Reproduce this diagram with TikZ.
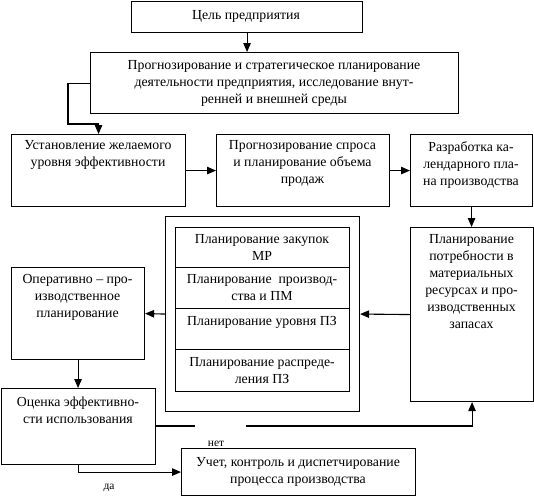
\documentclass[tikz,border=0pt]{standalone}
\usepackage{fontspec}
\setmainfont{Liberation Serif}
\usetikzlibrary{arrows.meta}
\tikzset{
  box/.style={draw, line width=1.1pt, rectangle, inner sep=0pt, anchor=north west},
  txt/.style={align=center, inner sep=0pt, font=\fontsize{13.8}{17}\selectfont},
  lbl/.style={inner sep=0pt, font=\fontsize{11.5}{13}\selectfont},
  arr/.style={line width=1.1pt, -{Triangle[length=9pt,width=7.5pt]}},
  ln/.style={line width=1.1pt}
}
\begin{document}
\begin{tikzpicture}[x=1pt,y=-1pt]
\useasboundingbox (0,0) rectangle (534,496);
% boxes
\node[box, minimum width=231pt, minimum height=31pt] (b1) at (131,0.5) {};
\node[box, minimum width=368pt, minimum height=61pt] (b2) at (90,52) {};
\node[box, minimum width=174pt, minimum height=72pt] (b3) at (11,134) {};
\node[box, minimum width=173pt, minimum height=72pt] (b4) at (216,134) {};
\node[box, minimum width=122pt, minimum height=72pt] (b5) at (410,134) {};
\node[box, minimum width=194pt, minimum height=195pt] (outer) at (165,216) {};
\node[box, minimum width=174pt, minimum height=40pt] (r1) at (175,227) {};
\node[box, minimum width=174pt, minimum height=41pt] (r2) at (175,267) {};
\node[box, minimum width=174pt, minimum height=41pt] (r3) at (175,308) {};
\node[box, minimum width=174pt, minimum height=42pt] (r4) at (175,349) {};
\node[box, minimum width=123pt, minimum height=174pt] (b6) at (410,227) {};
\node[box, minimum width=133pt, minimum height=92pt] (b7) at (11,267) {};
\node[box, minimum width=154pt, minimum height=76pt] (b8) at (1,388) {};
\node[box, minimum width=234pt, minimum height=47pt] (b9) at (181,448) {};
% texts
\node[txt] (t1) at (246,16) {Цель предприятия};
\node[txt] (t2) at (274,83.5) {Прогнозирование и стратегическое планирование\\деятельности предприятия, исследование внут-\\ренней и внешней среды};
\node[txt] (t3) at (98,155) {Установление желаемого\\уровня эффективности};
\node[txt] (t4) at (302.5,163.5) {Прогнозирование спроса\\и планирование объема\\продаж};
\node[txt] (t5) at (471,165) {Разработка ка-\\лендарного пла-\\на производства};
\node[txt] (tr1) at (262,247.5) {Планирование закупок\\МР};
\node[txt] (tr2) at (262,288) {Планирование \ производ-\\ства и ПМ};
\node[txt] (tr3) at (262,322) {Планирование уровня ПЗ};
\node[txt] (tr4) at (262,371) {Планирование распреде-\\ления ПЗ};
\node[txt] (t6) at (471.5,281.5) {Планирование\\потребности в\\материальных\\ресурсах и про-\\изводственных\\запасах};
\node[txt] (t7) at (77.5,297.5) {Оперативно -- про-\\изводственное\\планирование};
\node[txt] (t8) at (78,410.5) {Оценка эффективно-\\сти использования};
\node[txt] (t9) at (298,472) {Учет, контроль и диспетчирование\\процесса производства};
\node[lbl] (no) at (216,444) {нет};
\node[lbl] (yes) at (109,488) {да};
% connectors
\coordinate (c1) at (68,124);
\coordinate (g1) at (195,426);
\coordinate (g2) at (246,426);
\draw[arr] (b1.south) -- (b1.south |- b2.north);
\draw[arr] (b2.west) -| (c1) -| (b3.north);
\draw[arr] (b3.east) -- (b4.west);
\draw[arr] (b4.east) -- (b5.west);
\draw[arr] (b5.south) -- (b5.south |- b6.north);
\draw[arr] (b6.west) -- (outer.east);
\draw[arr] (outer.west) -- (b7.east);
\draw[arr] (b7.south) -- (b7.south |- b8.north);
\draw[ln] (b8.east |- g1) -- (g1);
\draw[arr] (g2) -| (b6.south);
\draw[arr] (b8.south) |- (b9.west);
\end{tikzpicture}
\end{document}
